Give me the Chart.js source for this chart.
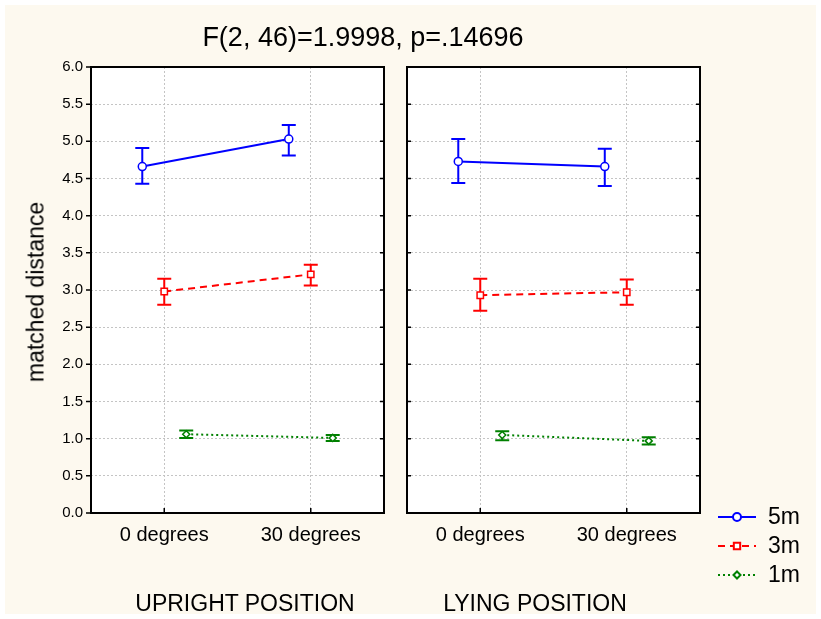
<!DOCTYPE html>
<html>
<head>
<meta charset="utf-8">
<script src="https://cdn.jsdelivr.net/npm/chart.js@4"></script>
<style>
  html, body { margin: 0; padding: 0; background: #fff; }
  #wrap { position: absolute; left: 0; top: 0; width: 821px; height: 619px; background: #fff; }
  #paper { position: absolute; left: 5px; top: 5px; width: 811px; height: 609px; background: #fdf9ef; }
  canvas { position: absolute; top: 0; }
  .lbl { position: absolute; transform: translate(-50%, -50%); white-space: nowrap;
         font-family: "Liberation Sans", Arial, sans-serif; color: #000; }
</style>
</head>
<body>
<div id="wrap">
  <div id="paper"></div>
  <canvas id="upright" width="400" height="619" style="left:0"></canvas>
  <canvas id="lying" width="421" height="619" style="left:400px"></canvas>
  <div class="lbl" style="left:363px;top:37px;font-size:27px">F(2, 46)=1.9998, p=.14696</div>
  <div class="lbl" style="left:36px;top:292px;font-size:23px;transform:translate(-50%,-50%) rotate(-90deg)">matched distance</div>
  <div class="lbl" style="left:245px;top:603px;font-size:23px">UPRIGHT POSITION</div>
  <div class="lbl" style="left:535px;top:603px;font-size:23px">LYING POSITION</div>
</div>
<script>
// --- DATA ---
const categories = ['0 degrees', '30 degrees'];
const seriesNames = ['5m', '3m', '1m'];
const yTicks = [0, 0.5, 1, 1.5, 2, 2.5, 3, 3.5, 4, 4.5, 5, 5.5, 6];

// upright position
const upright5m = [4.66, 5.03];
const upright5mLow = [4.43, 4.81];
const upright5mHigh = [4.91, 5.22];
const upright3m = [2.98, 3.21];
const upright3mLow = [2.80, 3.06];
const upright3mHigh = [3.15, 3.34];
const upright1m = [1.06, 1.01];
const upright1mLow = [1.01, 0.97];
const upright1mHigh = [1.11, 1.05];

// lying position
const lying5m = [4.73, 4.66];
const lying5mLow = [4.44, 4.40];
const lying5mHigh = [5.03, 4.90];
const lying3m = [2.93, 2.97];
const lying3mLow = [2.72, 2.80];
const lying3mHigh = [3.15, 3.14];
const lying1m = [1.05, 0.97];
const lying1mLow = [0.98, 0.92];
const lying1mHigh = [1.10, 1.02];

// --- STYLE ---
const FONT = '"Liberation Sans", Arial, sans-serif';
const seriesStyle = [
    { color: '#0000ff', dash: [], pointStyle: 'circle', radius: 4, shift: -0.15 },
    { color: '#ff0000', dash: [7, 5], pointStyle: 'rect', radius: 4.5, shift: 0 },
    { color: '#008000', dash: [2, 3], pointStyle: 'rectRot', radius: 3.5, shift: 0.15 }
];

function makeDataset(i, values, low, high) {
    const s = seriesStyle[i];
    return {
        label: seriesNames[i],
        data: values.map((v, j) => ({ x: j + s.shift, y: v })),
        errLow: low,
        errHigh: high,
        borderColor: s.color,
        borderWidth: 2,
        borderDash: s.dash,
        pointStyle: s.pointStyle,
        pointRadius: s.radius,
        pointBorderWidth: 1.5,
        pointBackgroundColor: '#fff',
        pointBorderColor: s.color,
        tension: 0
    };
}

// white plot area
const plotBg = {
    id: 'plotBg',
    beforeDraw(chart) {
        const a = chart.chartArea;
        chart.ctx.save();
        chart.ctx.fillStyle = '#fff';
        chart.ctx.fillRect(a.left, a.top, a.right - a.left, a.bottom - a.top);
        chart.ctx.restore();
    }
};

// error bars, drawn under the markers
const errorBars = {
    id: 'errorBars',
    beforeDatasetsDraw(chart) {
        const ctx = chart.ctx;
        const y = chart.scales.y;
        chart.data.datasets.forEach((ds, i) => {
            const meta = chart.getDatasetMeta(i);
            ctx.save();
            ctx.strokeStyle = ds.borderColor;
            ctx.lineWidth = 2;
            meta.data.forEach((pt, j) => {
                const top = y.getPixelForValue(ds.errHigh[j]);
                const bot = y.getPixelForValue(ds.errLow[j]);
                ctx.beginPath();
                ctx.moveTo(pt.x, top); ctx.lineTo(pt.x, bot);
                ctx.moveTo(pt.x - 7, top); ctx.lineTo(pt.x + 7, top);
                ctx.moveTo(pt.x - 7, bot); ctx.lineTo(pt.x + 7, bot);
                ctx.stroke();
            });
            ctx.restore();
        });
    }
};

// box round the plot with small tick marks
const frame = {
    id: 'frame',
    afterDraw(chart, args, opts) {
        const ctx = chart.ctx;
        const a = chart.chartArea;
        const { x, y } = chart.scales;
        ctx.save();
        ctx.strokeStyle = '#000';
        ctx.lineWidth = 2;
        ctx.strokeRect(a.left, a.top, a.right - a.left, a.bottom - a.top);
        ctx.lineWidth = 1.5;
        ctx.beginPath();
        yTicks.forEach(v => {
            const py = y.getPixelForValue(v);
            ctx.moveTo(a.left + (opts.outLeft ? -5 : 0), py);
            ctx.lineTo(a.left + (opts.outLeft ? 0 : 4), py);
            ctx.moveTo(a.right - 4, py); ctx.lineTo(a.right, py);
        });
        categories.forEach((c, i) => {
            const px = x.getPixelForValue(i);
            ctx.moveTo(px, a.bottom); ctx.lineTo(px, a.bottom - 5);
        });
        ctx.stroke();
        ctx.restore();
    }
};

// legend at bottom right
const legendBox = {
    id: 'legendBox',
    afterDraw(chart, args, opts) {
        if (!opts.show) return;
        const ctx = chart.ctx;
        chart.data.datasets.forEach((ds, i) => {
            const s = seriesStyle[i];
            const yy = opts.y + i * 29;
            ctx.save();
            ctx.strokeStyle = s.color;
            ctx.lineWidth = 2;
            ctx.setLineDash(s.dash);
            ctx.beginPath();
            ctx.moveTo(opts.x, yy); ctx.lineTo(opts.x + 38, yy);
            ctx.stroke();
            ctx.setLineDash([]);
            ctx.fillStyle = '#fff';
            Chart.helpers.drawPoint(ctx, {
                pointStyle: s.pointStyle, radius: s.radius, rotation: 0, borderWidth: 1.5
            }, opts.x + 19, yy);
            ctx.fillStyle = '#000';
            ctx.font = '23px ' + FONT;
            ctx.textBaseline = 'middle';
            ctx.fillText(ds.label, opts.x + 50, yy + 1);
            ctx.restore();
        });
    }
};

function makeChart(id, datasets, showYLabels, padRight, legend) {
    return new Chart(document.getElementById(id), {
        type: 'line',
        data: { datasets: datasets },
        options: {
            responsive: false,
            animation: false,
            layout: { padding: { top: 67, right: padRight, bottom: 66, left: 0 } },
            plugins: {
                legend: { display: false },
                tooltip: { enabled: false },
                frame: { outLeft: showYLabels },
                legendBox: legend
            },
            scales: {
                x: {
                    type: 'linear', min: -0.5, max: 1.5,
                    afterBuildTicks: s => { s.ticks = categories.map((c, i) => ({ value: i })); },
                    afterFit: s => { s.height = 40; },
                    ticks: {
                        callback: v => categories[v],
                        font: { family: FONT, size: 20 }, color: '#000', padding: 10, maxRotation: 0
                    },
                    grid: { color: '#c4c4c4', lineWidth: 1, drawTicks: false },
                    border: { display: false, dash: [2, 2] }
                },
                y: {
                    min: 0, max: 6,
                    afterBuildTicks: s => { s.ticks = yTicks.map(v => ({ value: v })); },
                    afterFit: s => { s.width = showYLabels ? 91 : 7; },
                    ticks: {
                        display: showYLabels,
                        callback: v => v.toFixed(1),
                        font: { family: FONT, size: 15 }, color: '#000', padding: 8
                    },
                    grid: { color: '#c4c4c4', lineWidth: 1, drawTicks: false },
                    border: { display: false, dash: [2, 2] }
                }
            }
        },
        plugins: [plotBg, errorBars, frame, legendBox]
    });
}

makeChart('upright', [
    makeDataset(0, upright5m, upright5mLow, upright5mHigh),
    makeDataset(1, upright3m, upright3mLow, upright3mHigh),
    makeDataset(2, upright1m, upright1mLow, upright1mHigh)
], true, 16, { show: false });

makeChart('lying', [
    makeDataset(0, lying5m, lying5mLow, lying5mHigh),
    makeDataset(1, lying3m, lying3mLow, lying3mHigh),
    makeDataset(2, lying1m, lying1mLow, lying1mHigh)
], false, 121, { show: true, x: 318, y: 517 });
</script>
</body>
</html>
